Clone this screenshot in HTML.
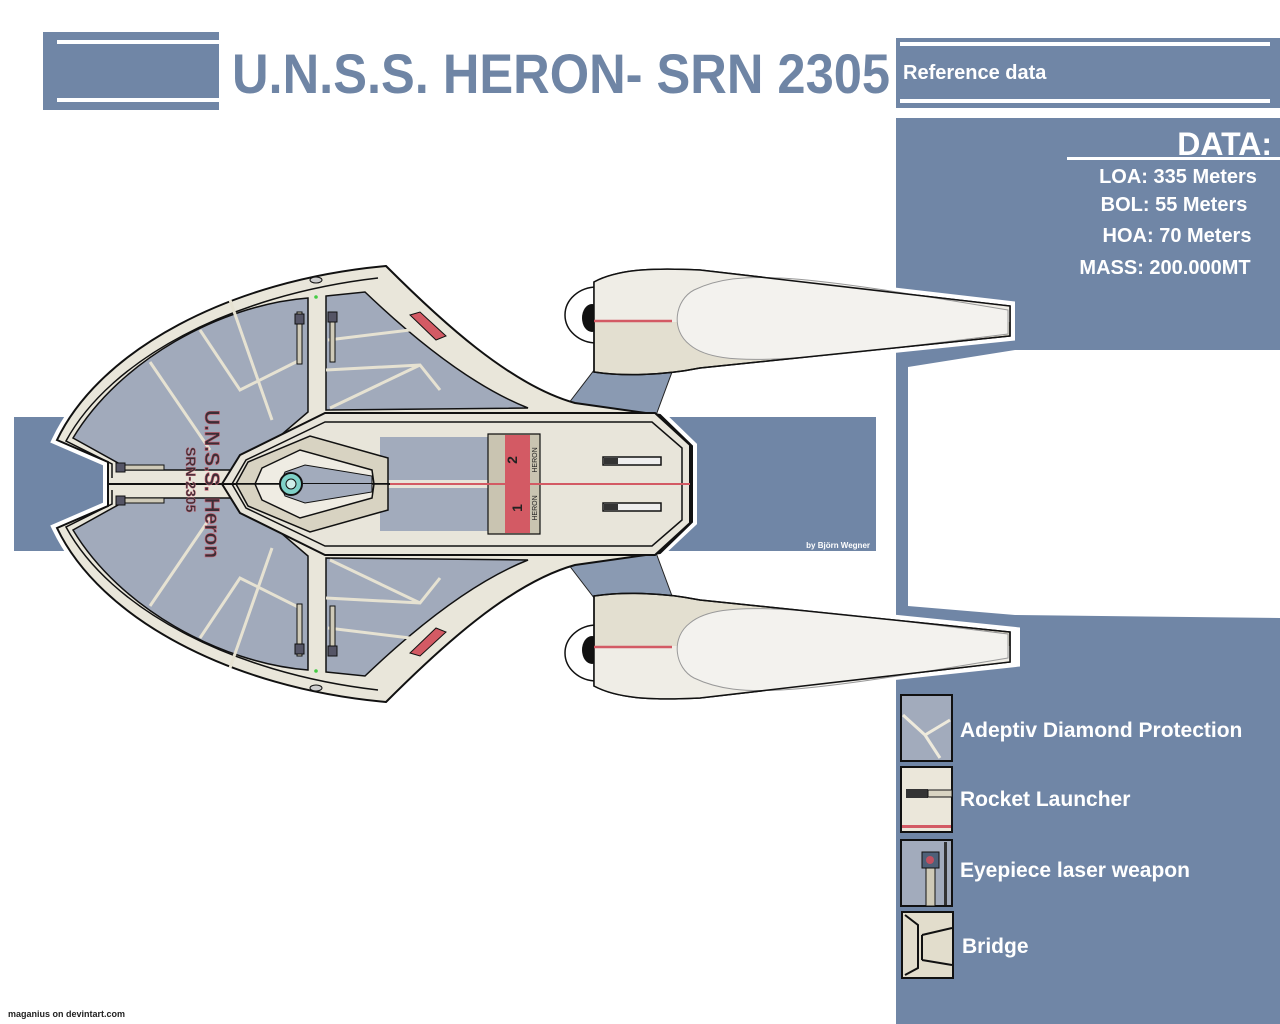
<!DOCTYPE html>
<html><head><meta charset="utf-8"><style>
html,body{margin:0;padding:0;background:#fff;}
body{width:1280px;height:1024px;overflow:hidden;position:relative;font-family:"Liberation Sans",sans-serif;}
</style></head><body>
<svg width="1280" height="1024" viewBox="0 0 1280 1024" xmlns="http://www.w3.org/2000/svg" style="position:absolute;left:0;top:0">
<defs>
<g id="half">
  <path d="M565,408 L598,365 L672,372 L655,418 Z" fill="#8a9ab2" stroke="#222" stroke-width="1"/>
  <path d="M108,484 L108,462 L57,440 C100,350 230,280 386,266 C440,320 510,385 575,403 L660,415 L692,446 L692,484 Z" fill="#e9e6da" stroke="#111" stroke-width="2"/>
  <path d="M112,478 L112,464 L66,441 C110,360 230,295 378,278" fill="none" stroke="#111" stroke-width="1.5"/>
  <path d="M118,470 L118,463 L73,438 C120,360 220,305 308,298 L308,412 L240,470 Z" fill="#a1aabb" stroke="#111" stroke-width="1.5"/>
  <path d="M326,296 L365,292 C410,335 470,385 528,408 L326,410 Z" fill="#a1aabb" stroke="#111" stroke-width="1.5"/>
  <path d="M150,362 L210,450 M200,330 L240,390 L300,360 M230,300 L272,420 M326,370 L420,365 L440,390 M330,408 L420,365 M410,330 L328,340" stroke="#e6e2d2" stroke-width="3" fill="none"/>
  <path d="M222,484 L240,455 L325,413 L655,413 L690,445 L690,484 Z" fill="#e8e5da" stroke="#111" stroke-width="2"/>
  <path d="M232,484 L246,460 L325,422 L652,422 L682,448 L682,484" fill="none" stroke="#111" stroke-width="1.5"/>
  <path d="M380,437 L490,437 L492,480 L380,480 Z" fill="#a2abbc"/>
  <path d="M488,434 L540,434 L540,484 L488,484 Z" fill="#c9c4b1" stroke="#111" stroke-width="1.2"/>
  <rect x="505" y="435" width="25" height="49" fill="#d35a64"/>
  <path d="M236,484 L248,462 L310,436 L388,458 L388,484 Z" fill="#d8d3c2" stroke="#111" stroke-width="1.5"/>
  <path d="M255,484 L262,468 L300,450 L372,470 L374,484 Z" fill="#efece3" stroke="#111" stroke-width="1.5"/>
  <path d="M280,484 L285,472 L305,465 L372,476 L372,484" fill="#a2abbc" stroke="#111" stroke-width="1"/>
  <line x1="390" y1="484" x2="690" y2="484" stroke="#d35a64" stroke-width="2"/>
  <rect x="603" y="457" width="58" height="8" fill="#eee" stroke="#111" stroke-width="1.5"/>
  <rect x="604" y="458" width="14" height="6" fill="#333"/>
  <rect x="297" y="312" width="5" height="52" fill="#cfcab8" stroke="#111"/>
  <rect x="295" y="314" width="9" height="10" fill="#556" stroke="#111"/>
  <rect x="330" y="312" width="5" height="50" fill="#cfcab8" stroke="#111"/>
  <rect x="328" y="312" width="9" height="10" fill="#556" stroke="#111"/>
  <rect x="116" y="465" width="48" height="5" fill="#cfcab8" stroke="#111"/>
  <rect x="116" y="463" width="9" height="9" fill="#556" stroke="#111"/>
  <path d="M410,315 L420,312 L446,336 L436,340 Z" fill="#d35a64" stroke="#111"/>
  <ellipse cx="316" cy="280" rx="6" ry="3" fill="#ccc" stroke="#111"/>
  <circle cx="316" cy="297" r="1.8" fill="#4c4"/>
  <ellipse cx="597" cy="315" rx="32" ry="28" fill="#fff" stroke="#111" stroke-width="1.5"/>
  <ellipse cx="592" cy="318" rx="10" ry="14" fill="#111"/>
  <path d="M594,282 C620,268 660,268 700,270 L1010,306 L1010,336 L700,368 C660,376 620,376 594,372 Z" fill="#e3dfd0" stroke="#111" stroke-width="1.5"/>
  <path d="M594,282 C620,268 660,268 700,270 L1010,306 L1010,322 L594,322 Z" fill="#efede6"/>
  <path d="M694,290 C740,268 800,275 1008,310 L1008,334 C800,360 720,370 690,345 C670,330 675,300 694,290 Z" fill="#f3f2ee" stroke="#999" stroke-width="1"/>
  <path d="M594,282 C620,268 660,268 700,270 L1010,306 L1010,336 L700,368 C660,376 620,376 594,372 Z" fill="none" stroke="#111" stroke-width="1.5"/>
  <line x1="594" y1="321" x2="672" y2="321" stroke="#d35a64" stroke-width="2.5"/>
</g>
</defs>

<rect x="43" y="32" width="176" height="78" fill="#7086a6"/>
<rect x="57" y="40" width="162" height="4" fill="#fff"/>
<rect x="57" y="98" width="162" height="4" fill="#fff"/>
<text x="232" y="93" font-family="Liberation Sans, sans-serif" font-weight="bold" font-size="56" fill="#6f85a5" textLength="658" lengthAdjust="spacingAndGlyphs">U.N.S.S. HERON- SRN 2305</text>
<rect x="896" y="38" width="384" height="70" fill="#7086a6"/>
<rect x="900" y="42" width="370" height="4" fill="#fff"/>
<rect x="900" y="99" width="370" height="4" fill="#fff"/>
<text x="903" y="79" font-weight="bold" font-size="20" fill="#fff">Reference data</text>

<path d="M896,118 L1280,118 L1280,1024 L896,1024 Z" fill="#7086a6"/>
<path d="M1280,350 L1015,350 L908,367 L908,606 L1015,615 L1280,618 Z" fill="#fff"/>
<text x="1272" y="155" text-anchor="end" font-weight="bold" font-size="32" fill="#fff">DATA:</text>
<rect x="1067" y="157" width="213" height="3" fill="#fff"/>
<g font-weight="bold" font-size="20" fill="#fff" text-anchor="middle">
<text x="1178" y="183">LOA: 335 Meters</text>
<text x="1174" y="211">BOL: 55 Meters</text>
<text x="1177" y="242">HOA: 70 Meters</text>
<text x="1165" y="274">MASS: 200.000MT</text>
</g>

<rect x="14" y="417" width="862" height="134" fill="#7086a6"/>
<text x="870" y="548" text-anchor="end" font-size="8" font-weight="bold" fill="#fff">by Björn Wegner</text>

<g stroke="#fff" stroke-width="10" fill="#fff">
<path d="M108,484 L108,462 L57,440 C100,350 230,280 386,266 C440,320 510,385 575,403 L660,415 L692,446 L692,522 L660,552 L575,565 C510,583 440,650 386,702 C230,688 100,618 57,528 L108,506 Z"/>
<path d="M594,282 L700,270 L1010,306 L1010,336 L700,368 L594,372 Z"/>
<path d="M594,596 L700,600 L1015,632 L1015,662 L700,696 L594,688 Z"/>
</g>
<use href="#half"/>
<use href="#half" transform="translate(0,968) scale(1,-1)"/>
<circle cx="291" cy="484" r="11" fill="#7fd1c8" stroke="#111" stroke-width="2"/>
<circle cx="291" cy="484" r="5" fill="#cdeee9" stroke="#111"/>
<text x="517" y="455" font-size="14" font-weight="bold" fill="#222" transform="rotate(-90 517 460)" text-anchor="middle" dy="5">2</text>
<text x="517" y="508" font-size="14" font-weight="bold" fill="#222" transform="rotate(-90 517 508)" text-anchor="middle" dy="5">1</text>
<text x="537" y="460" font-size="7" fill="#222" transform="rotate(-90 537 460)" text-anchor="middle">HERON</text>
<text x="537" y="508" font-size="7" fill="#222" transform="rotate(-90 537 508)" text-anchor="middle">HERON</text>
<text x="200" y="410" font-size="21" font-weight="bold" fill="#3b2e36" stroke="#c96070" stroke-width="0.6" transform="rotate(90 200 410)" dy="-5">U.N.S.S. Heron</text>
<text x="183" y="447" font-size="14" font-weight="bold" fill="#3b2e36" stroke="#c96070" stroke-width="0.4" transform="rotate(90 183 447)" dy="-3">SRN-2305</text>

<g stroke="#111" stroke-width="2">
<rect x="901" y="695" width="51" height="66" fill="#a2abbc"/>
<rect x="901" y="767" width="51" height="65" fill="#ebe7da"/>
<rect x="901" y="840" width="51" height="66" fill="#a2abbc"/>
<rect x="902" y="912" width="51" height="66" fill="#e2ddcc"/>
</g>
<path d="M903,715 L925,735 L950,720 M925,735 L940,758" stroke="#eeeadc" stroke-width="3" fill="none"/>
<rect x="906" y="789" width="22" height="9" fill="#333"/><rect x="928" y="790" width="24" height="7" fill="#d9d4c2" stroke="#111"/>
<rect x="902" y="825" width="49" height="3" fill="#d35a64"/>
<rect x="926" y="868" width="9" height="38" fill="#cfcab8" stroke="#111"/>
<rect x="922" y="852" width="17" height="16" fill="#4e6078" stroke="#111"/><circle cx="930" cy="860" r="4" fill="#c05060"/>
<rect x="944" y="842" width="3" height="63" fill="#333"/>
<path d="M905,915 L918,925 L918,968 L905,975 M922,935 L952,928 M922,960 L952,965 M922,935 L922,960" stroke="#111" stroke-width="2" fill="none"/>
<g font-weight="bold" font-size="21" fill="#fff">
<text x="960" y="737">Adeptiv Diamond Protection</text>
<text x="960" y="806">Rocket Launcher</text>
<text x="960" y="877">Eyepiece laser weapon</text>
<text x="962" y="953">Bridge</text>
</g>
<text x="8" y="1017" font-size="9" font-weight="bold" fill="#222">maganius on devintart.com</text>
</svg>
</body></html>
